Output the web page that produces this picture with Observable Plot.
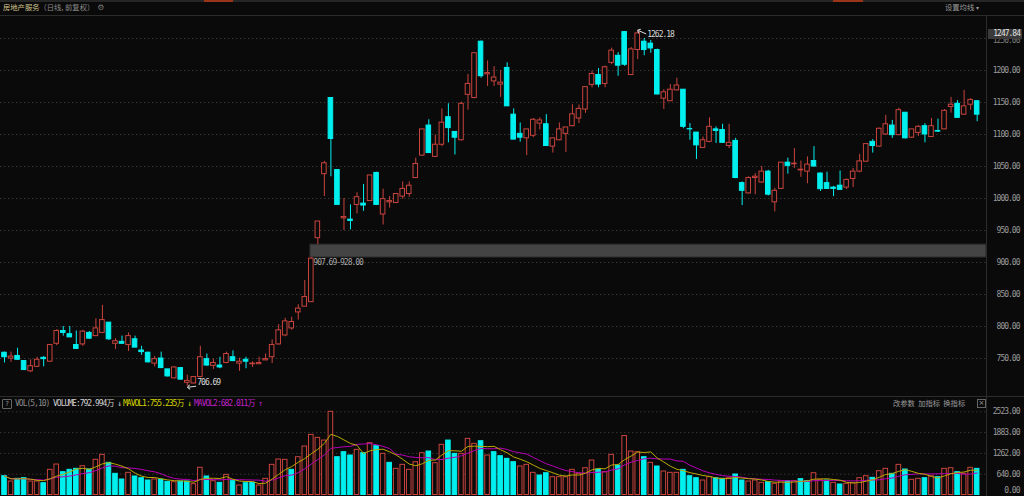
<!DOCTYPE html>
<html><head><meta charset="utf-8">
<script src="https://cdn.jsdelivr.net/npm/d3@7"></script>
<script src="https://cdn.jsdelivr.net/npm/@observablehq/plot@0.6"></script>
<style>
html,body{margin:0;padding:0;background:#0a0a0a;overflow:hidden}
#root{position:relative;width:1024px;height:496px;background:#0a0a0a;overflow:hidden;font-family:"Noto Sans CJK SC",sans-serif}
.abs{position:absolute;white-space:nowrap;line-height:1}
.cjk{font-family:"Noto Sans CJK SC",sans-serif;font-size:7.3px}
.mono{font-family:"DejaVu Sans Mono","Noto Sans CJK SC",monospace;font-size:8px;letter-spacing:-1px}
svg{display:block}
</style></head><body><div id="root"></div>
<script>
// ---- data ----
const opens=[759,750,754,746,730,737,751,745,773,793,788,771,772,790,785,790,806,773,776,771,780,762.5,759,742,750,733,719,735,712,711,721,749,738.5,739,743,752,742,748,741,741,747,752,772,786,797,822,831,838,938,1038,1157,1044.5,969,967,990,992,996,1040,975,994,993,1003,1007,1032,1067,1114,1065,1084,1127,1104,1091,1162,1157,1245,1194,1183,1178,1204,1131,1101,1094,1098,1117,1116,1081,1091,1101,1113,1125,1139,1177.5,1193,1179,1212,1223,1260,1193,1232,1245,1242,1232,1156,1152,1169,1170,1108.5,1103,1079,1088.5,1108,1107,1082,1090,1024,1008,1032,1025,1042,994,1015,1056,1053.5,1044,1042,1058.5,1039,1024,1017,1020,1017,1030.5,1042,1057.5,1088.5,1081,1100,1114,1099,1134,1095,1102.5,1113,1096,1105.5,1108,1143,1148,1131,1146.5,1152];
const highs=[760,760,766,746,748,752,753,772,795,800,800,793,794,792,812,833,806,781,785,790,785,769,760,753,760,733,737,736,724,722,769,757,749,752,760,762,750.5,752,745,752,757,779,803,813,814.5,834,872,907.69,964,1058,1157,1045,1000,990,1009,1022,1036,1041,1014.5,1003,1007,1026,1026,1063,1108,1123,1099,1140,1148,1104,1150.6,1194,1227,1246,1215,1206,1200,1212,1140,1118,1108,1125,1126,1131,1094,1118,1111,1146.5,1146,1174,1199,1203,1207,1235,1228,1261,1236,1262.18,1250,1247,1233.4,1170,1178,1188,1170.3,1117,1103,1096,1126,1112,1116,1116,1094,1026,1034,1039,1050,1044,1016,1056,1063,1078,1058.5,1065,1081,1040,1041,1019,1043,1030.5,1047,1069,1085,1092,1110,1130,1122,1141,1134,1108,1114,1117,1125,1124,1139,1158,1153,1169,1156,1152];
const lows=[743,744,747,731,728,736,737,744,770,785,783,764,769,780,784,789,778,764,772,761,767,755,743,737,735,721,718,716,706.69,710,720,738,733,734,742,745,730,734,736,740.6,747,742,771,784,794,810,831,838,928,1003,1034,990,950,951,976,980,996,989,958.6,985,992,999,1002,1031,1066,1071,1065,1081,1087,1068,1090,1138,1156,1188,1175,1175,1158,1144,1092,1088,1067,1095,1107,1082,1071,1090,1072,1112,1117,1133,1173,1173,1173,1209,1191,1206.5,1193,1217,1223,1227,1162,1139,1152,1168,1109,1091,1061,1079,1087,1086,1086,1078,1031,989,1007,1006,1024,1004,979,1014,1038,1047,1033,1023,1049,1011,1014,1003,1013,1014,1017,1040,1057,1071,1080,1099,1094,1098,1093,1094,1097,1087,1096,1103,1108,1133.5,1126,1130,1138,1120];
const closes=[752,753,748,732,738,748,749,771,793,790,783,765,792,781,797,810,780,777,773,785,767,760,744,749,735,722,736,717,715,721,752,739,743,736,757,746,745,745,742,743,749,771,794,808,807,828,846,906,964,1055,1093,990,971,965,1002,989,1036,990,999,996,1007,1015,1020,1054,1108,1071,1084,1118.5,1110,1095,1148,1179,1227,1191,1196,1189,1181,1144,1092,1095,1108,1123,1122,1082,1094,1108,1111,1131.5,1140,1174,1194.6,1178,1205,1231,1207.5,1209,1233,1258,1232,1234.5,1162.5,1166,1170,1176.5,1112,1108,1083,1091,1112,1105.6,1087,1087,1032,1012,1032,1034,1042,1006,1012,1056,1051,1054.5,1045,1053,1050,1014.5,1015,1015,1013.5,1029,1042,1058,1085,1082,1109,1116,1099,1138,1094,1108,1112,1100,1113,1104.5,1137,1146.5,1126,1144,1154,1131];
const volumes=[571,409,490,510,409,409,358,763,924,692,763,793,873,773,1067,1218,975,642,470,672,561,510,439,470,470,400,389,409,409,328,825,561,419,369,611,419,288,358,369,288,490,914,1076,1066,763,1146,1470,1823,1732,1651,2523,1146,1298,1197,1369,1268,1571,1480,1248,975,793,914,763,995,1268,1318,965,1521,1651,1248,1248,1702,1551,1631,1197,1298,1177,1096,995,864,914,672,591,661,540,540,540,763,642,813,1045,773,692,1218,894,1788,1318,1298,1146,975,864,712,672,672,763,570,510,439,540,510,490,510,621,439,409,439,369,389,338,409,419,419,480,419,661,460,439,369,318,338,358,510,570,520,722,793,642,914,773,460,490,510,570,540,793,813,692,642,823,792.994];
// volume bar colour as seen: r = red (hollow), c = cyan (filled)
const volDir="crccrrcrrcccrcrrcccrcccrccrccrrcrcrcrccrrrrrcrrrrrrcccrcrcrcrrrrrcrrccrrrcrcccc rrrccrrrrrrrcrrcrrrcrcrrrccc rrcc rcc rrr crrcrccrrcrcrrrrcrrcrcrrcrcrrcrrc".replace(/ /g,"").split("");
const priceTicks=[750,800,850,900,950,1000,1050,1100,1150,1200,1250];
const volTickLabels=["0.00","640.00","1262.00","1883.00","2523.00"];
const volMax=2523;
const gapZone={i:47,low:907.69,high:928.00,label:"907.69-928.00"};
const hiMark={i:97,v:1262.18,label:"1262.18"};
const loMark={i:28,v:706.69,label:"706.69"};

// ---- layout / style ----
const RED="#c9443e", CYAN="#00f0f0", BG="#0a0a0a", GRID="#353535";
const STEP=6.528, X0=4, PANEL_W=986;
const xDomain=[-X0/STEP,(PANEL_W-X0)/STEP];
const N=closes.length;
const candles=d3.range(N).map(i=>({i,o:opens[i],h:highs[i],l:lows[i],c:closes[i],up:closes[i]>=opens[i]}));
const vols=d3.range(N).map(i=>({i,v:volumes[i],up:volDir[i]==="r"}));
const svgStyle="background:transparent;overflow:visible;letter-spacing:-1px;font-family:'DejaVu Sans Mono','Noto Sans CJK SC',monospace;font-size:8px;";

const root=document.getElementById("root");
function add(html){root.insertAdjacentHTML("beforeend",html);}

// tab strip + header
add(`<div class="abs" style="left:0;top:0;width:1024px;height:2px;background:#262626"></div>`);
add(`<div class="abs" style="left:204px;top:0;width:29px;height:2px;background:#9a3418"></div>`);
add(`<div class="abs" style="left:833px;top:0;width:30px;height:2px;background:#9a3418"></div>`);
add(`<div class="abs cjk" style="left:3px;top:4px;color:#d4c68c">房地产服务<span style="color:#8a8a8a">（日线, 前复权）</span><span style="color:#777;font-family:'DejaVu Sans';font-size:8px;margin-left:3px">⚙</span></div>`);
add(`<div class="abs cjk" style="left:945px;top:4px;color:#9a9a9a">设置均线 <span style="font-size:6px">▾</span></div>`);
add(`<div class="abs" style="left:0;top:15px;width:1024px;height:1px;background:#2c2c2c"></div>`);
add(`<div class="abs" style="left:0;top:396px;width:1024px;height:1px;background:#2c2c2c"></div>`);
add(`<div class="abs" style="left:986px;top:15px;width:1px;height:481px;background:#2c2c2c"></div>`);

// price panel
const price=Plot.plot({
  width:1024,height:381,marginLeft:0,marginRight:38,marginTop:0,marginBottom:0,
  style:svgStyle,
  x:{domain:xDomain,axis:null},
  y:{domain:[690.625,1285.9375],axis:null},
  color:{type:"identity"},
  marks:[
    Plot.ruleY(priceTicks,{y:d=>d,stroke:GRID,strokeDasharray:"1.5,2.5"}),
    Plot.rect([gapZone],{x1:d=>d.i-0.15,x2:xDomain[1],y1:"low",y2:"high",fill:"#444444",stroke:"#262626"}),
    Plot.text([gapZone],{x:"i",y:"low",text:"label",textAnchor:"start",dx:2,dy:4.5,fill:"#a8a8a8",fontSize:8}),
    Plot.ruleX(candles,{x:"i",y1:"l",y2:"h",stroke:d=>d.up?RED:CYAN}),
    Plot.rect(candles,{x1:d=>d.i-0.35,x2:d=>d.i+0.35,y1:d=>Math.min(d.o,d.c),y2:d=>Math.max(d.o,d.c),fill:d=>d.up?BG:CYAN,stroke:d=>d.up?RED:CYAN}),
    Plot.link([hiMark],{x1:d=>d.i+1.3,y1:d=>d.v-5,x2:d=>d.i+0.15,y2:d=>d.v,stroke:"#dddddd",markerEnd:"arrow"}),
    Plot.text([hiMark],{x:"i",y:"v",text:"label",textAnchor:"start",dx:9.5,dy:3.5,fill:"#d8d8d8",fontSize:8}),
    Plot.link([loMark],{x1:d=>d.i+1.35,y1:d=>d.v,x2:d=>d.i+0.2,y2:d=>d.v-1.5,stroke:"#dddddd",markerEnd:"arrow"}),
    Plot.text([loMark],{x:"i",y:"v",text:"label",textAnchor:"start",dx:10,dy:-3.4,fill:"#d8d8d8",fontSize:8}),
    Plot.text(priceTicks.filter(t=>t<1250),{y:d=>d,text:d=>d.toFixed(2),frameAnchor:"right",textAnchor:"end",dx:33,fill:"#9a9a9a",fontSize:8}),
    Plot.text(priceTicks.filter(t=>t>=1250),{y:d=>d,text:d=>d.toFixed(2),frameAnchor:"right",textAnchor:"end",dx:33,dy:2,fill:"#777",fontSize:8})
  ]
});
const pdiv=document.createElement("div");
pdiv.className="abs";pdiv.style.left="0px";pdiv.style.top="15px";
pdiv.appendChild(price);root.appendChild(pdiv);

// last price box (covers most of the 1250.00 label, as in the reference)
add(`<div class="abs mono" style="left:988px;top:29px;width:34px;height:10px;background:#3a3a3a;color:#e0e0e0;text-align:right;line-height:10px;padding-right:2px;box-sizing:border-box">1247.84</div>`);

// volume header
add(`<div class="abs" style="left:2px;top:399px;width:8px;height:8px;border:1px solid #666;border-radius:1px;color:#999;font-family:'DejaVu Sans';font-size:7px;line-height:8px;text-align:center">?</div>`);
add(`<div class="abs mono" style="left:15px;top:400px;color:#8a8a8a">VOL(5,10)</div>`);
add(`<div class="abs mono" style="left:53px;top:400px;color:#d0d0d0">VOLUME:792.994万 ↓</div>`);
add(`<div class="abs mono" style="left:123px;top:400px;color:#d6d600">MAVOL1:755.235万 ↓</div>`);
add(`<div class="abs mono" style="left:194px;top:400px;color:#c020c8">MAVOL2:682.011万 ↑</div>`);
add(`<div class="abs cjk" style="left:893px;top:400px;color:#9a9a9a">改参数&nbsp;&nbsp;加指标&nbsp;&nbsp;换指标</div>`);
add(`<div class="abs" style="left:977px;top:399px;width:7px;height:7px;border:1px solid #666;color:#999;font-family:'DejaVu Sans';font-size:7px;line-height:7px;text-align:center">×</div>`);

// volume panel
const volTicks=volTickLabels.map((t,k)=>({v:volMax*k/4,t}));
const vol=Plot.plot({
  width:1024,height:96,marginLeft:0,marginRight:38,marginTop:0,marginBottom:0,
  style:svgStyle,
  x:{domain:xDomain,axis:null},
  y:{domain:[0,volMax],range:[94.5,11.3],axis:null},
  color:{type:"identity"},
  marks:[
    Plot.ruleY(volTicks.slice(1),{y:"v",stroke:GRID,strokeDasharray:"1.5,2.5"}),
    Plot.rect(vols,{x1:d=>d.i-0.35,x2:d=>d.i+0.35,y1:0,y2:"v",fill:d=>d.up?BG:CYAN,stroke:d=>d.up?RED:CYAN}),
    Plot.lineY(vols,Plot.windowY({k:10,anchor:"end",reduce:"mean"},{x:"i",y:"v",stroke:"#b800b8",strokeWidth:1})),
    Plot.lineY(vols,Plot.windowY({k:5,anchor:"end",reduce:"mean"},{x:"i",y:"v",stroke:"#b8a800",strokeWidth:1})),
    Plot.text(volTicks.slice(1),{y:"v",text:"t",frameAnchor:"right",textAnchor:"end",dx:33,fill:"#9a9a9a",fontSize:8}),
    Plot.text(volTicks.slice(0,1),{y:"v",text:"t",frameAnchor:"right",textAnchor:"end",dx:33,dy:-4.5,fill:"#9a9a9a",fontSize:8})
  ]
});
const vdiv=document.createElement("div");
vdiv.className="abs";vdiv.style.left="0px";vdiv.style.top="400px";
vdiv.appendChild(vol);root.appendChild(vdiv);
</script>
</body></html>
